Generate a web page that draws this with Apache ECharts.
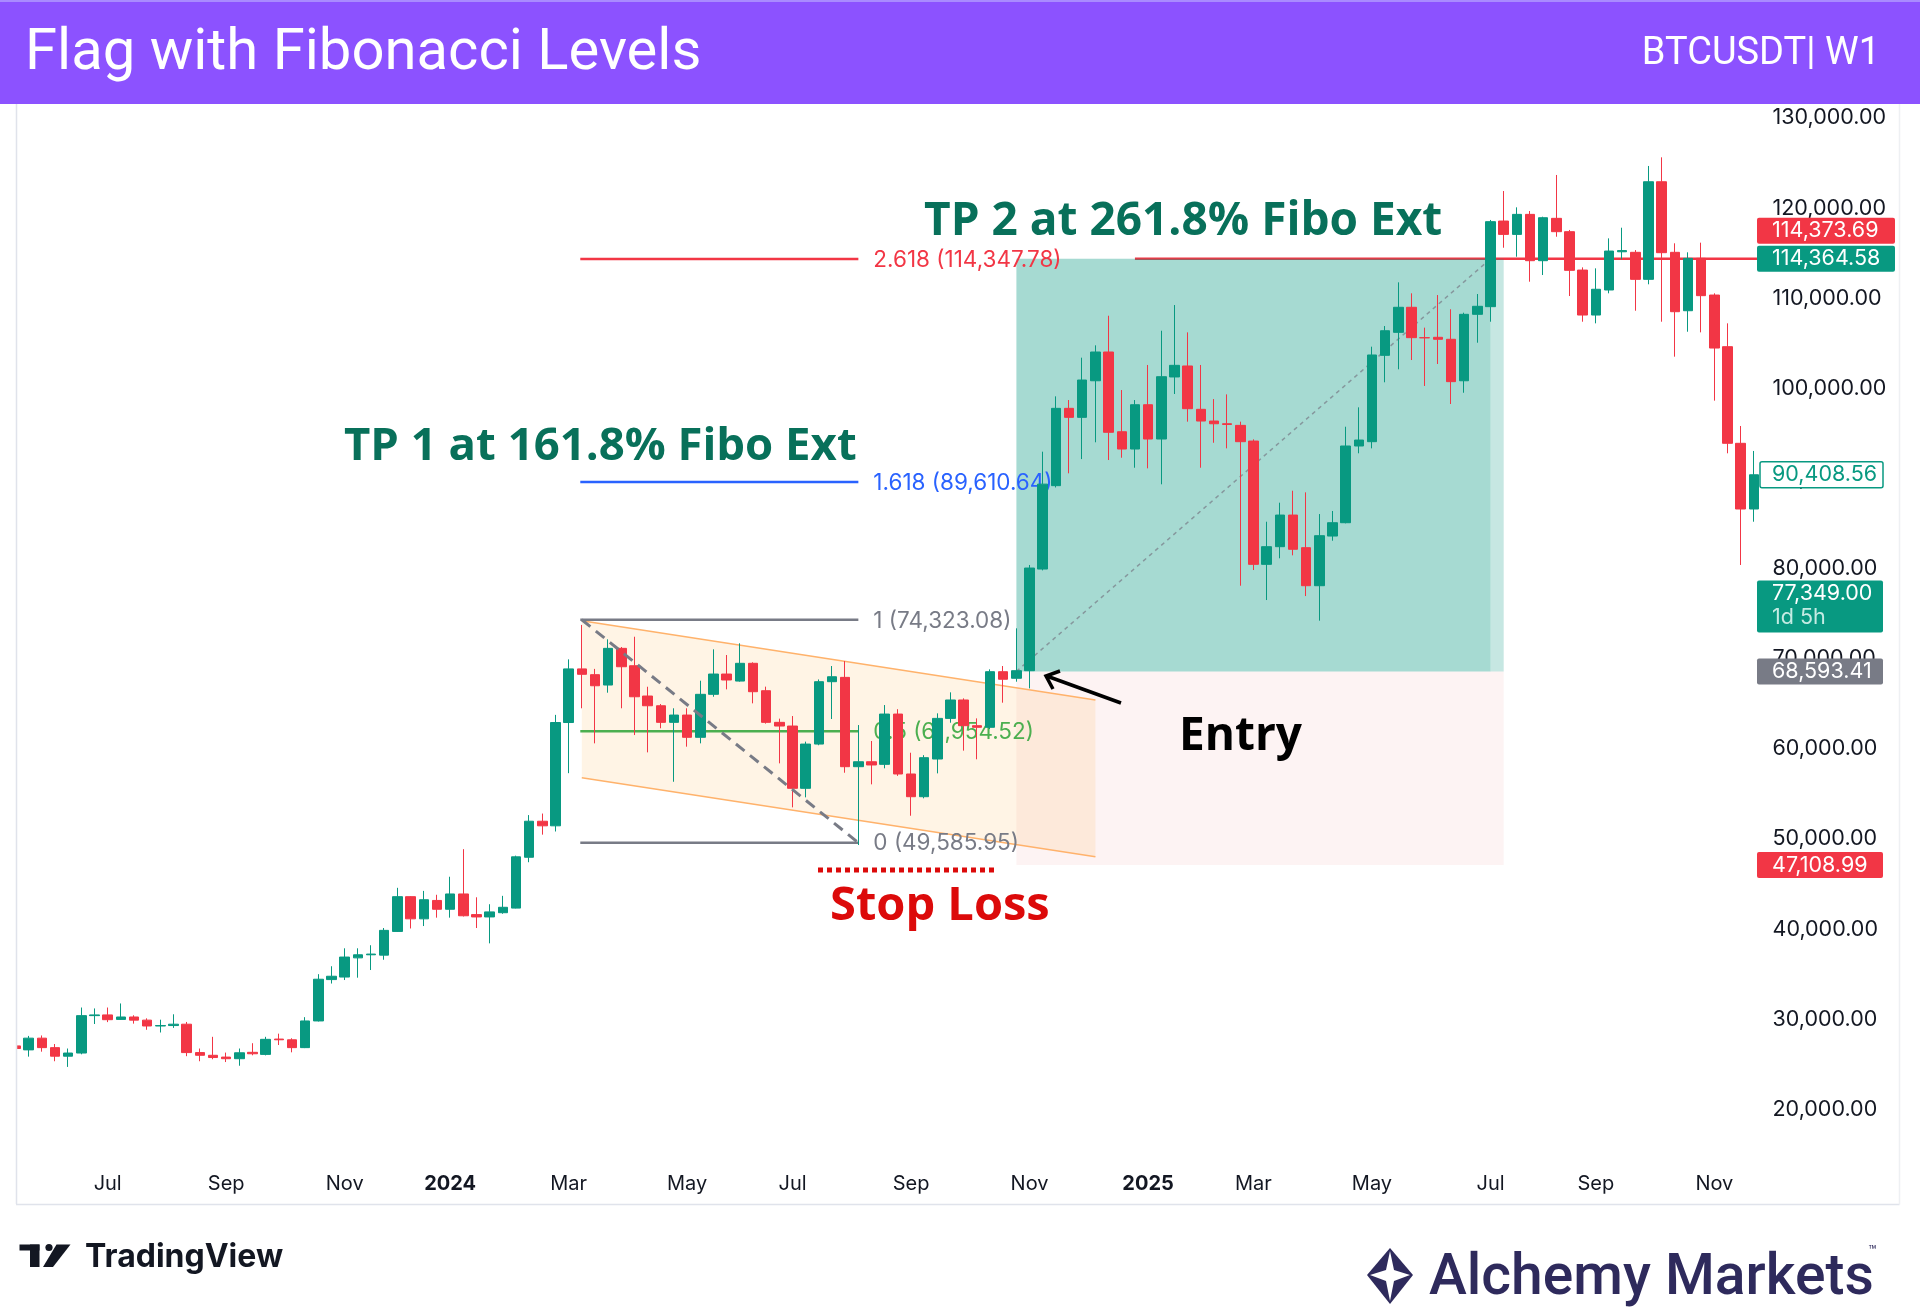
<!DOCTYPE html>
<html><head><meta charset="utf-8">
<script src="https://cdn.jsdelivr.net/npm/echarts@6/dist/echarts.min.js"></script>
<style>html,body{margin:0;padding:0;background:#fff}#c{width:1920px;height:1314px}</style>
</head><body><div id="c"></div>
<script>
// ---------- DATA ----------
const firstWeek = '2023-05-15';
const weekCount = 133;
const open = [
27040, 26600, 27900, 26850, 25900, 26250, 30400, 30480, 29980, 30250,
29900, 29250, 29300, 29450, 26300, 26000, 25800, 25620, 26330, 26100,
27800, 27720, 26850, 29810, 34400, 34680, 36810, 37150, 37110, 39740,
43600, 41140, 43180, 42200, 43900, 41610, 41350, 41820, 42330, 47970,
51970, 51460, 62920, 68870, 68230, 67080, 71150, 69220, 65860, 64780,
62940, 63750, 61280, 66050, 68300, 67520, 69490, 66450, 62940, 62530,
55620, 60530, 67450, 67930, 58020, 58570, 58280, 63860, 57210, 54690,
58870, 63380, 65420, 62570, 62390, 68560, 67830, 68670, 79950, 89200,
97780, 96780, 100840, 104030, 95185, 93265, 98180, 94375, 101260, 102480,
97670, 96370, 96070, 95890, 94150, 80470, 82430, 85940, 82320, 78100,
83610, 85090, 93600, 94080, 103660, 106210, 108990, 105620, 105660, 105440,
100840, 108210, 109060, 118560, 117080, 119300, 114160, 118860, 117380, 113120,
108130, 110910, 115150, 115090, 112090, 122920, 115090, 108610, 114420, 110350,
104620, 93900, 86610];
const close = [
26750, 27900, 26850, 25900, 26250, 30400, 30480, 29950, 30250, 29900,
29250, 29300, 29450, 26300, 26000, 25750, 25620, 26280, 26170, 27770,
27720, 26850, 29810, 34440, 34770, 36900, 37150, 37230, 39860, 43600,
41140, 43260, 42200, 43900, 41480, 41350, 41910, 42420, 48020, 51970,
51460, 62920, 68870, 68270, 67000, 71150, 69110, 65780, 64780, 62940,
63750, 61280, 66050, 68300, 67640, 69490, 66340, 62940, 62530, 55620,
60530, 67450, 68000, 58020, 58570, 58210, 63860, 57210, 54690, 59020,
63380, 65420, 62570, 62390, 68560, 67720, 68670, 80060, 89370, 97780,
96780, 100920, 104030, 95120, 93265, 98180, 94375, 101290, 102550, 97740,
96370, 96070, 95990, 94080, 80470, 82430, 85940, 82140, 78100, 83650,
85090, 93600, 94260, 103700, 106390, 108990, 105620, 105600, 105440, 100740,
108210, 109100, 118490, 117080, 119300, 114160, 118930, 117380, 113090, 108130,
110990, 115230, 115280, 112090, 122920, 115050, 108500, 114420, 110280, 104470,
93900, 86610, 90408.56];
const high = [
27650, 28150, 28200, 27250, 26750, 31300, 31200, 31300, 31750, 30440,
30100, 29950, 30550, 29700, 26750, 28050, 26300, 26750, 27340, 28050,
28400, 27890, 30230, 35000, 35880, 37870, 37870, 38210, 40120, 44580,
43650, 44240, 43810, 45810, 48870, 43530, 42760, 43690, 48150, 52650,
52820, 63770, 69930, 73750, 68870, 72150, 71300, 72440, 66890, 64970,
64500, 64500, 67560, 71040, 70410, 71710, 69600, 66900, 63350, 63640,
60800, 67700, 69190, 69740, 62640, 60870, 64860, 64400, 59570, 59300,
63940, 66270, 65600, 63380, 68820, 69190, 73370, 80400, 92970, 99110,
98700, 103400, 104770, 108055, 99810, 98700, 102590, 106390, 109240, 106210,
102590, 98810, 99330, 96300, 94340, 85200, 87310, 88640, 88460, 86050,
86390, 95740, 97890, 104620, 106910, 111760, 110540, 106730, 110350, 108770,
108390, 110460, 118680, 121890, 120080, 119670, 119040, 123670, 117570, 113420,
113310, 116640, 117820, 115340, 124670, 125630, 116090, 115090, 116160, 110540,
107210, 95820, 93050];
const low = [
26150, 25850, 26400, 25340, 24710, 26110, 29470, 29680, 29930, 29510,
28830, 28530, 29040, 25900, 25340, 25560, 25250, 24840, 26000, 25990,
27140, 26330, 26800, 29750, 33960, 34350, 34610, 35460, 36600, 39700,
40070, 40340, 41270, 41270, 41400, 40120, 38420, 41700, 42300, 47420,
50480, 50830, 57300, 64500, 60610, 66230, 64500, 61530, 59610, 62280,
56350, 60240, 60610, 65780, 66600, 67450, 65050, 62800, 58390, 53510,
54620, 60400, 63310, 57350, 49330, 56060, 57840, 57000, 52580, 54510,
57280, 62900, 59800, 58840, 62200, 65120, 67450, 66710, 79800, 89000,
90570, 92150, 94010, 92045, 92300, 91190, 91120, 89350, 99370, 96300,
91190, 93960, 93340, 78100, 79840, 76510, 81140, 81470, 76950, 74220,
83090, 85020, 92790, 93340, 100670, 102110, 103140, 100260, 102700, 98260,
99510, 105060, 107390, 115600, 114600, 111830, 112570, 116820, 110240, 107390,
107210, 110540, 114310, 108610, 111540, 107390, 103510, 106280, 106210, 98630,
92790, 80400, 85200];

const tickDates  = ['2023-07-03','2023-09-04','2023-11-06','2024-01-01','2024-03-04','2024-05-06','2024-07-01','2024-09-02','2024-11-04','2025-01-06','2025-03-03','2025-05-05','2025-07-07','2025-09-01','2025-11-03'];
const tickLabels = ['Jul','Sep','Nov','2024','Mar','May','Jul','Sep','Nov','2025','Mar','May','Jul','Sep','Nov'];
const yearLabels = ['2024','2025'];

const fibLevels = ['2.618','1.618','1','0.5','0'];
const fibPrices = [114347.78, 89610.64, 74323.08, 61954.52, 49585.95];
const fibStart = '2024-03-11', fibEnd = '2024-08-05';
const channelStart = '2024-03-11', channelEnd = '2024-12-09';
const channelUpper = [74210, 65420];
const channelLower = [56800, 48030];
const entryPrice = 68593.41, targetPrice = 114364.58, stopPrice = 47108.99;
const posStart = '2024-10-28', posHit = '2025-07-07', posEnd = '2025-07-14';
const targetLineStart = '2024-12-30';
const badgeValues = [114373.69, 114364.58, 90408.56, 77349.00, 68593.41, 47108.99];
const countdownText = '1d 5h';

// ---------- BUILD ----------
const categories = [];
(function(){ const t0 = Date.parse(firstWeek + 'T00:00:00Z');
  for (let i = 0; i < weekCount; i++) categories.push(new Date(t0 + i*7*86400000).toISOString().slice(0,10)); })();
const candles = categories.map((c,i) => [open[i], close[i], low[i], high[i]]);
const tickMap = {}; tickDates.forEach((d,i) => tickMap[d] = tickLabels[i]);
const fmt = v => v.toLocaleString('en-US',{minimumFractionDigits:2, maximumFractionDigits:2});
const idx = d => categories.indexOf(d);

const UP = '#089981', DOWN = '#f23645';
const fibColors = ['#f23645','#2962ff','#787b86','#4caf50','#787b86'];

function renderUnder(params, api){
  const cs = params.coordSys;
  const P = (d, v) => api.coord([typeof d === 'number' ? d : idx(d), v]);
  const ch = [];
  const ps = P(posStart, entryPrice), ph = P(posHit, entryPrice), pe = P(posEnd, entryPrice);
  const yE = ps[1], yT = P(posStart, targetPrice)[1], yS = P(posStart, stopPrice)[1];
  ch.push({type:'rect', shape:{x:ps[0], y:yE, width:pe[0]-ps[0], height:yS-yE}, style:{fill:'#fdf3f3'}});
  const cu0 = P(channelStart, channelUpper[0]), cu1 = P(channelEnd, channelUpper[1]);
  const cl0 = P(channelStart, channelLower[0]), cl1 = P(channelEnd, channelLower[1]);
  ch.push({type:'polygon', shape:{points:[cu0,cu1,cl1,cl0]}, style:{fill:'rgba(255,152,0,0.1)'}});
  const tl = P(targetLineStart, targetPrice);
  ch.push({type:'line', shape:{x1:tl[0], y1:tl[1], x2:cs.x+cs.width, y2:tl[1]}, style:{stroke:'#f23645', lineWidth:2.5}});
  ch.push({type:'rect', shape:{x:ps[0], y:yT, width:ph[0]-ps[0], height:yE-yT}, style:{fill:'rgba(8,153,129,0.36)'}});
  ch.push({type:'rect', shape:{x:ph[0], y:yT, width:pe[0]-ph[0], height:yE-yT}, style:{fill:'rgba(8,153,129,0.23)'}});
  ch.push({type:'line', shape:{x1:cu0[0], y1:cu0[1], x2:cu1[0], y2:cu1[1]}, style:{stroke:'#ffb26b', lineWidth:1.5}});
  ch.push({type:'line', shape:{x1:cl0[0], y1:cl0[1], x2:cl1[0], y2:cl1[1]}, style:{stroke:'#ffb26b', lineWidth:1.5}});
  fibPrices.forEach((p,k) => {
    const a = P(fibStart, p), b = P(fibEnd, p);
    ch.push({type:'line', shape:{x1:a[0]-1.5, y1:a[1], x2:b[0], y2:b[1]}, style:{stroke:fibColors[k], lineWidth:2.5}});
    ch.push({type:'text', style:{text: fibLevels[k] + ' (' + fmt(p) + ')', x:b[0]+15, y:b[1]+1, fill:fibColors[k],
      font:'400 22.5px Inter', textAlign:'left', textVerticalAlign:'middle', verticalAlign:'middle'}});
  });
  const d0 = P(posStart, entryPrice), d1 = P(posHit, targetPrice);
  ch.push({type:'line', shape:{x1:d0[0], y1:d0[1], x2:d1[0], y2:d1[1]}, style:{stroke:'rgba(120,123,134,0.7)', lineWidth:1.5, lineDash:[4,4]}});
  return {type:'group', children:ch};
}

function renderOver(params, api){
  const cs = params.coordSys;
  const P = (d, v) => api.coord([typeof d === 'number' ? d : idx(d), v]);
  const ch = [];
  const a = P(fibStart, fibPrices[2]), b = P(fibEnd, fibPrices[4]);
  ch.push({type:'line', shape:{x1:a[0], y1:a[1], x2:b[0], y2:b[1]}, style:{stroke:'#787b86', lineWidth:3, lineDash:[11,7]}});
  // price badges on the axis
  const bx = cs.x + cs.width - 3.5;
  const font = '400 21.5px Inter';
  const tx = bx + 15;
  const y2 = P(0, badgeValues[1])[1];
  const boxes = [
    {y: y2-13-28, h:26, w:138, fill:'#f23645', color:'#ffffff'},
    {y: y2-13, h:26, w:138, fill:'#089981', color:'#ffffff'},
    {y: P(0,badgeValues[2])[1]-13, h:26, w:126, fill:'#ffffff', stroke:'#089981', color:'#089981', x0:bx+3},
    {y: P(0,badgeValues[3])[1]-12, h:52, w:126, fill:'#089981', color:'#ffffff', sub:true},
    {y: P(0,badgeValues[4])[1]-13, h:26, w:126, fill:'#787b86', color:'#ffffff'},
    {y: P(0,badgeValues[5])[1]-13, h:26, w:126, fill:'#f23645', color:'#ffffff'}
  ];
  boxes.forEach((bb,k) => {
    const x0 = bb.x0 || bx;
    ch.push({type:'rect', shape:{x:x0, y:bb.y, width:bb.w - (x0-bx), height:bb.h, r:2},
      style:{fill:bb.fill, stroke:bb.stroke || null, lineWidth: bb.stroke ? 1.5 : 0}});
    ch.push({type:'text', style:{text:fmt(badgeValues[k]), x:tx, y:bb.y+13, fill:bb.color, font:font,
      textAlign:'left', textVerticalAlign:'middle', verticalAlign:'middle'}});
    if (bb.sub) ch.push({type:'text', style:{text:countdownText, x:tx, y:bb.y+37, fill:'#c4ebe3', font:font,
      textAlign:'left', textVerticalAlign:'middle', verticalAlign:'middle'}});
  });
  return {type:'group', children:ch};
}

const chart = echarts.init(document.getElementById('c'), null, {renderer:'canvas'});
const tvFont = 'Inter';
const annFont = '700 46px "Open Sans"';
chart.setOption({
  animation:false,
  backgroundColor:'#ffffff',
  textStyle:{fontFamily:tvFont},
  grid:{left:8.9, right:159.5, top:27.8, bottom:114.5, containLabel:false, outerBoundsMode:'none'},
  xAxis:{type:'category', data:categories, boundaryGap:true,
    axisLine:{show:false}, axisTick:{show:false}, splitLine:{show:false},
    axisLabel:{interval:(i,v) => tickMap[v] !== undefined, margin:-15.5, verticalAlign:'middle',
      color:'#131722', fontSize:20, fontFamily:tvFont,
      formatter:v => { const l = tickMap[v] || ''; return yearLabels.indexOf(l) >= 0 ? '{b|' + l + '}' : l; },
      rich:{b:{fontWeight:'bold', fontSize:20, color:'#131722', fontFamily:tvFont}}}},
  yAxis:{type:'value', position:'right', min:10000, max:140000, interval:10000, scale:false,
    axisLine:{show:false}, axisTick:{show:false}, splitLine:{show:false},
    axisLabel:{margin:12, color:'#131722', fontSize:21.5, fontFamily:tvFont,
      formatter:v => (v === 10000 || v === 140000) ? '' : fmt(v)}},
  series:[
    {type:'custom', z:1, silent:true, renderItem:renderUnder, data:[[0,50000]]},
    {type:'candlestick', z:2, barWidth:10, data:candles, silent:true,
      itemStyle:{color:UP, color0:DOWN, borderColor:UP, borderColor0:DOWN, borderWidth:1}},
    {type:'custom', z:3, silent:true, clip:false, renderItem:renderOver, data:[[0,50000]]}
  ],
  graphic:[
    {type:'rect', z:100, shape:{x:0, y:104, width:16, height:1110}, style:{fill:'#ffffff'}},
    {type:'line', z:100, shape:{x1:16.5, y1:104, x2:16.5, y2:1204}, style:{stroke:'#e0e3eb', lineWidth:1.5}},
    {type:'line', z:100, shape:{x1:16, y1:1204.5, x2:1899.5, y2:1204.5}, style:{stroke:'#e0e3eb', lineWidth:1.5}},
    {type:'line', z:100, shape:{x1:1899.5, y1:104, x2:1899.5, y2:1204.5}, style:{stroke:'#eef0f3', lineWidth:1.5}},
    // header
    {type:'rect', z:100, shape:{x:0, y:0, width:1920, height:104}, style:{fill:'#8c52ff'}},
    {type:'rect', z:100, shape:{x:0, y:0, width:1920, height:2}, style:{fill:'#a98bff'}},
    {type:'text', z:101, style:{text:'Flag with Fibonacci Levels', x:25, y:54.5, fill:'#ffffff',
      font:'400 58px Roboto', textAlign:'left', textVerticalAlign:'middle', verticalAlign:'middle'}},
    {type:'text', z:101, style:{text:'BTCUSDT| W1', x:1880, y:54.5, fill:'#ffffff',
      font:'400 38px Roboto', textAlign:'right', textVerticalAlign:'middle', verticalAlign:'middle'}},
    // annotations
    {type:'text', z:101, style:{text:'TP 2 at 261.8% Fibo Ext', x:924, y:222, fill:'#08705a',
      font:annFont, textAlign:'left', textVerticalAlign:'middle', verticalAlign:'middle'}},
    {type:'text', z:101, style:{text:'TP 1 at 161.8% Fibo Ext', x:344, y:447, fill:'#08705a',
      font:'700 45.5px "Open Sans"', textAlign:'left', textVerticalAlign:'middle', verticalAlign:'middle'}},
    {type:'text', z:101, style:{text:'Entry', x:1179, y:737, fill:'#000000',
      font:annFont, textAlign:'left', textVerticalAlign:'middle', verticalAlign:'middle'}},
    {type:'text', z:101, style:{text:'Stop Loss', x:830, y:907, fill:'#dc0a0a',
      font:'700 47px "Open Sans"', textAlign:'left', textVerticalAlign:'middle', verticalAlign:'middle'}},
    {type:'line', z:101, shape:{x1:818, y1:870, x2:994, y2:870}, style:{stroke:'#dc0a0a', lineWidth:5, lineDash:[5,4]}},
    {type:'line', z:101, shape:{x1:1121, y1:703, x2:1048, y2:676.5}, style:{stroke:'#000000', lineWidth:3.5}},
    {type:'polyline', z:101, shape:{points:[[1053,689],[1046,676],[1060,671]]}, style:{stroke:'#000000', lineWidth:3.5, fill:null}},
    // footer: TradingView
    {type:'rect', z:101, shape:{x:19.5, y:1244.5, width:20, height:6}, style:{fill:'#131722'}},
    {type:'rect', z:101, shape:{x:30, y:1244.5, width:9.5, height:22.5}, style:{fill:'#131722'}},
    {type:'circle', z:101, shape:{cx:49, cy:1247.5, r:3.6}, style:{fill:'#131722'}},
    {type:'polygon', z:101, shape:{points:[[56.5,1244.5],[70.5,1244.5],[53,1267],[43,1267]]}, style:{fill:'#131722'}},
    {type:'text', z:101, style:{text:'TradingView', x:85, y:1257.5, fill:'#131722',
      font:'700 32px Inter', textAlign:'left', textVerticalAlign:'middle', verticalAlign:'middle'}},
    // footer: Alchemy Markets
    {type:'polygon', z:101, shape:{points:[[1390,1248],[1413,1275],[1390,1304],[1367,1275]]}, style:{fill:'#2e2a5c'}},
    {type:'polygon', z:101, shape:{points:[[1390,1251],[1394,1270],[1410,1275],[1394,1281],[1390,1301],[1386,1281],[1370,1275],[1386,1270]]}, style:{fill:'#ffffff'}},
    {type:'text', z:101, style:{text:'Alchemy Markets', x:1429, y:1279.5, fill:'#2e2a5c',
      font:'500 57px Roboto', textAlign:'left', textVerticalAlign:'middle', verticalAlign:'middle'}},
    {type:'text', z:101, style:{text:'™', x:1868, y:1251, fill:'#2e2a5c',
      font:'400 14px Roboto', textAlign:'left', textVerticalAlign:'middle', verticalAlign:'middle'}}
  ]
});
</script></body></html>
